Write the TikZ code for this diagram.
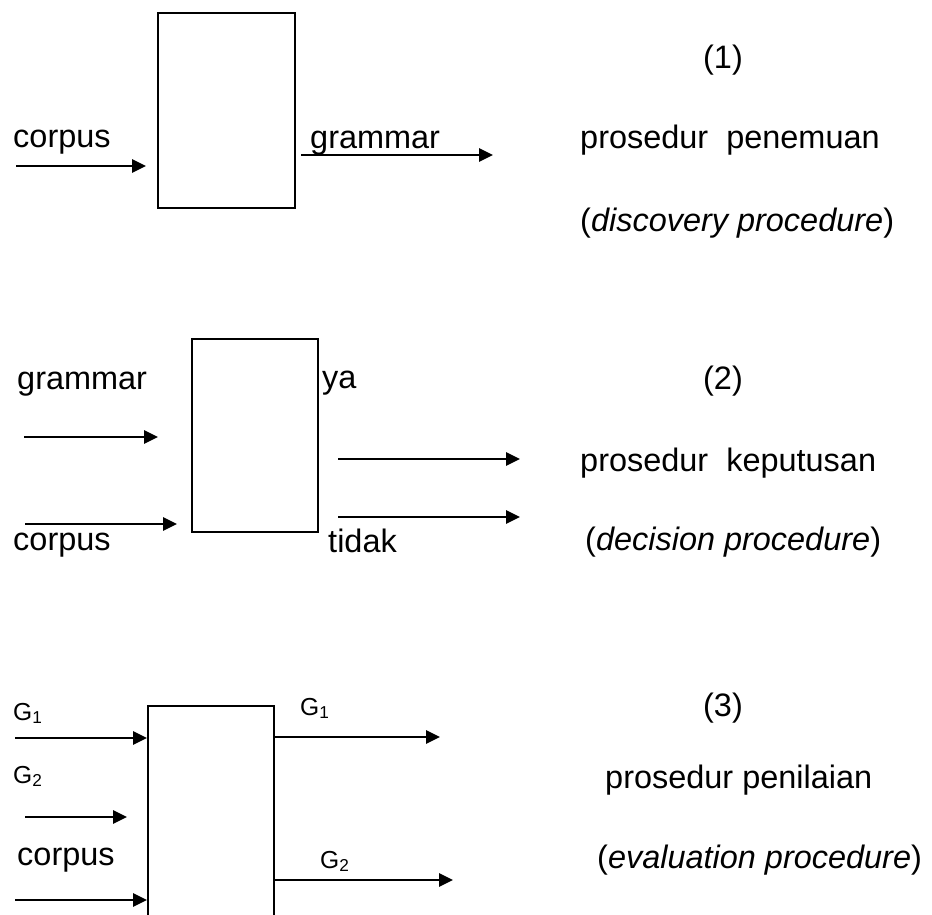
\documentclass[tikz,border=0pt]{standalone}
\usepackage{fontspec}
\setmainfont{Liberation Sans}
\usetikzlibrary{arrows.meta}

\providecommand{\masukan}[4]{
    \coordinate (#1) at (#2);
    \draw[panah, shorten >=#4] (#1) -- (#1 -| #3.west);
}
\providecommand{\keluaran}[4]{
    \coordinate (#1) at (#2);
    \draw[panah, shorten <=#4] (#3.east |- #1) -- (#1);
}

\begin{document}
\begin{tikzpicture}[
    x=0.03cm, y=-0.03cm,
    >={Triangle[length=0.42cm, width=0.4cm]},
    kotak/.style={draw, line width=1.7pt, inner sep=0pt},
    panah/.style={->, line width=1.6pt},
    teks/.style={inner sep=0pt, anchor=base west, font=\fontsize{27.7}{33}\selectfont},
    nomor/.style={teks, anchor=base},
    simbol/.style={inner sep=0pt, anchor=base west, font=\fontsize{21}{25}\selectfont}
]

    \useasboundingbox (0,0) rectangle (932,914);
    \begin{scope}
    \clip (0,0) rectangle (932,914);

    % PROSEDUR PENEMUAN
    \node[kotak, minimum width=4.11cm, minimum height=5.85cm] (B1) at (226.5,110.5) {};
    \node[teks] (K1) at (13,147) {corpus};
    \node[teks] (G1) at (310,148) {grammar};
    \masukan{M1}{16,166}{B1}{0.33cm}
    \keluaran{O1}{493,155}{B1}{0.15cm}

    \node[nomor] (N1) at (723,68) {(1)};
    \node[teks] (P1) at (580,148) {prosedur\ \ penemuan};
    \node[teks] (E1) at (580,231) {(\textit{discovery procedure})};

    % PROSEDUR KEPUTUSAN
    \node[kotak, minimum width=3.78cm, minimum height=5.79cm] (B2) at (255,435.5) {};
    \node[teks] (G2) at (17,389) {grammar};
    \node[teks] (K2) at (13,550) {corpus};
    \node[teks] (Y2) at (322,388) {ya};
    \node[teks] (T2) at (328,552) {tidak};
    \masukan{MG2}{24,437}{B2}{0.99cm}
    \masukan{MK2}{25,524}{B2}{0.42cm}
    \keluaran{OY2}{520,459}{B2}{0.57cm}
    \keluaran{OT2}{520,517}{B2}{0.57cm}

    \node[nomor] (N2) at (723,389) {(2)};
    \node[teks] (P2) at (580,471) {prosedur\ \ keputusan};
    \node[teks] (E2) at (585,550) {(\textit{decision procedure})};

    % PROSEDUR PENILAIAN
    \node[kotak, minimum width=3.78cm, minimum height=6.72cm] (B3) at (211,818) {};
    \node[simbol] (GA3) at (13,720) {G\textsubscript{1}};
    \node[simbol] (GB3) at (13,783) {G\textsubscript{2}};
    \node[teks] (K3) at (17,865) {corpus};
    \node[simbol] (GC3) at (300,715) {G\textsubscript{1}};
    \node[simbol] (GD3) at (320,868) {G\textsubscript{2}};
    \masukan{MA3}{15,738}{B3}{0cm}
    \masukan{MB3}{25,817}{B3}{0.6cm}
    \masukan{MK3}{15,900}{B3}{0cm}
    \keluaran{OA3}{440,737}{B3}{0cm}
    \keluaran{OB3}{453,880}{B3}{0cm}

    \node[nomor] (N3) at (723,716) {(3)};
    \node[teks] (P3) at (605,788) {prosedur penilaian};
    \node[teks] (E3) at (597,868) {(\textit{evaluation procedure})};

    \end{scope}

\end{tikzpicture}
\end{document}
